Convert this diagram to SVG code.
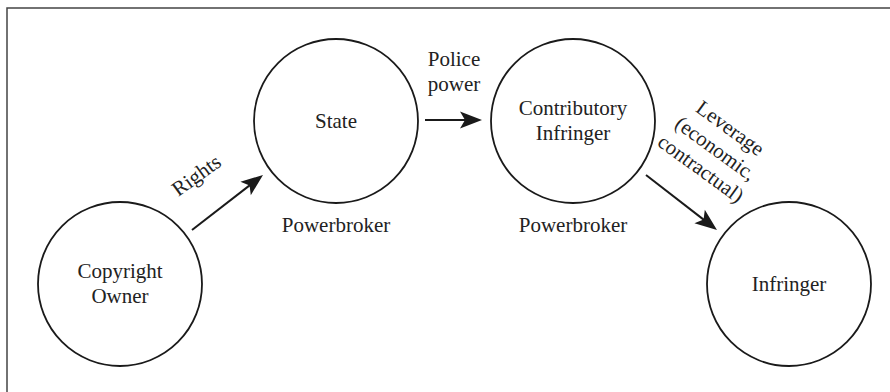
<svg xmlns="http://www.w3.org/2000/svg" width="890" height="392" viewBox="0 0 890 392">
<style>
.node{fill:#fff;stroke:#1a1a1a;stroke-width:1.8}
.t{font-family:"Liberation Serif","Times New Roman",serif;font-size:21px;fill:#222;text-anchor:middle}
.edge{stroke:#1a1a1a;stroke-width:2;fill:none}
.frame{stroke:#444;stroke-width:1.5;fill:none}
</style>
<defs>
<marker id="ah" viewBox="-24 -10 26 20" refX="-10" refY="0" markerWidth="26" markerHeight="20" markerUnits="userSpaceOnUse" orient="auto">
<path d="M0,0 L-22,-8.5 L-17,0 L-22,8.5 Z" fill="#1a1a1a"/>
</marker>
</defs>
<rect x="0" y="0" width="890" height="392" fill="#fff"/>
<path class="frame" d="M7,392 V8 H890"/>
<g id="copyright-owner">
<circle class="node" cx="120" cy="284" r="82"/>
<text class="t" x="120" y="278">Copyright</text>
<text class="t" x="120" y="303">Owner</text>
</g>
<g id="state">
<circle class="node" cx="336" cy="121" r="82"/>
<text class="t" x="336" y="128">State</text>
<text class="t" x="336" y="232">Powerbroker</text>
</g>
<g id="contributory-infringer">
<circle class="node" cx="573" cy="121" r="82"/>
<text class="t" x="573" y="115">Contributory</text>
<text class="t" x="573" y="140">Infringer</text>
<text class="t" x="573" y="232">Powerbroker</text>
</g>
<g id="infringer">
<circle class="node" cx="789" cy="284" r="82"/>
<text class="t" x="789" y="291">Infringer</text>
</g>
<g id="connectors">
<line class="edge" x1="192" y1="230" x2="255.1" y2="181.1" marker-end="url(#ah)"/>
<text class="t" transform="translate(200.5,181) rotate(-36)">Rights</text>
<line class="edge" x1="425" y1="120" x2="472" y2="120" marker-end="url(#ah)"/>
<text class="t" x="454" y="66">Police</text>
<text class="t" x="454" y="91">power</text>
<line class="edge" x1="646" y1="175" x2="709.1" y2="223.9" marker-end="url(#ah)"/>
<g transform="translate(711.5,154) rotate(36)">
<text class="t" x="0" y="-25">Leverage</text>
<text class="t" x="0" y="0">(economic,</text>
<text class="t" x="0" y="25">contractual)</text>
</g>
</g>
</svg>
